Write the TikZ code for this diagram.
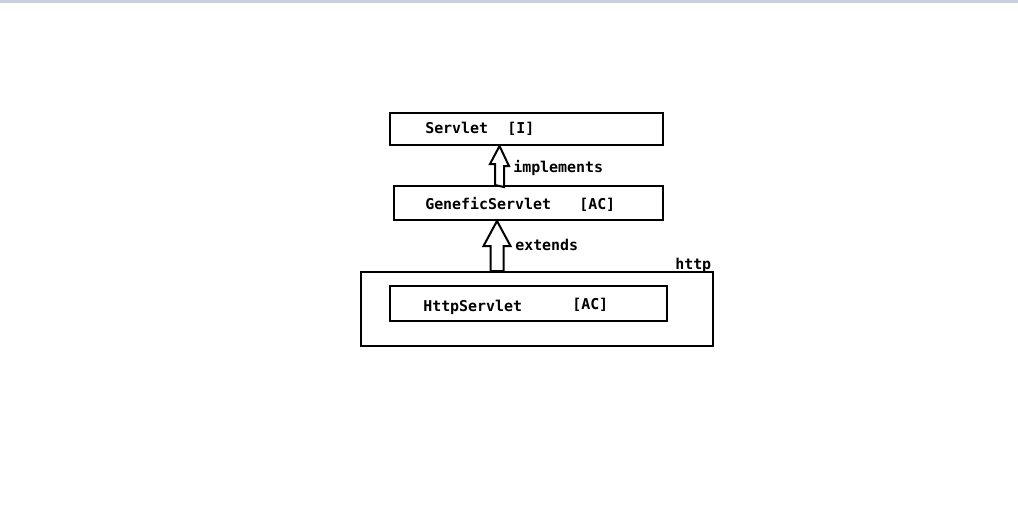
\documentclass[tikz,border=0pt]{standalone}
\usepackage{fontspec}
\setmonofont{DejaVu Sans Mono}
\usetikzlibrary{calc}
\definecolor{topbar}{RGB}{200,208,222}
\tikzset{
  box/.style={draw, line width=1.5pt, inner sep=0pt},
  lbl/.style={font=\ttfamily\bfseries\fontsize{11.2}{13}\selectfont, inner sep=0pt, anchor=base west},
  hollow/.style={draw, line width=1.5pt, fill=white, line join=miter},
}
\begin{document}
\begin{tikzpicture}[x=0.75pt,y=-0.75pt]
\useasboundingbox (0,0) rectangle (1018,512);
\fill[white] (0,0) rectangle (1018,512);
\fill[topbar] (0,0) rectangle (1018,3);
% boxes
\node[box, minimum width=273*0.75pt, minimum height=32*0.75pt] (servlet) at (526.5,129) {};
\node[box, minimum width=269*0.75pt, minimum height=34*0.75pt] (generic) at (528.5,203) {};
\node[box, minimum width=352*0.75pt, minimum height=74*0.75pt] (http) at (537,309) {};
\node[box, minimum width=277*0.75pt, minimum height=35*0.75pt] (httpservlet) at (528.5,303.5) {};
% texts
\node[lbl] (t1) at (425,133) {Servlet};
\node[lbl] (t2) at (507,133) {[I]};
\node[lbl] (t3) at (425,209) {GeneficServlet};
\node[lbl] (t4) at (579,209) {[AC]};
\node[lbl] (t5) at (423,311) {HttpServlet};
\node[lbl] (t6) at (572,309) {[AC]};
\node[lbl] (impl) at (513,172) {implements};
\node[lbl] (ext) at (515,250) {extends};
\node[lbl] (httplbl) at (675,269) {http};
% arrows
\coordinate (a1tip) at (servlet.south -| 499.5,0);
\coordinate (a1bot) at (generic.north -| 499.5,0);
\draw[hollow] (a1bot) ++(-4.5,0) -- ++(0,-21) -- ++(-5,0) -- (a1tip) -- ($(a1tip)+(9.5,20)$) -- ++(-5,0) -- ++(0,21) -- cycle;
\coordinate (a2tip) at (generic.south -| 497,0);
\coordinate (a2bot) at (http.north -| 497,0);
\draw[hollow] (a2bot) ++(-6.5,0) -- ++(0,-25) -- ++(-7,0) -- (a2tip) -- ($(a2tip)+(13.5,25)$) -- ++(-7,0) -- ++(0,25) -- cycle;
\end{tikzpicture}
\end{document}
